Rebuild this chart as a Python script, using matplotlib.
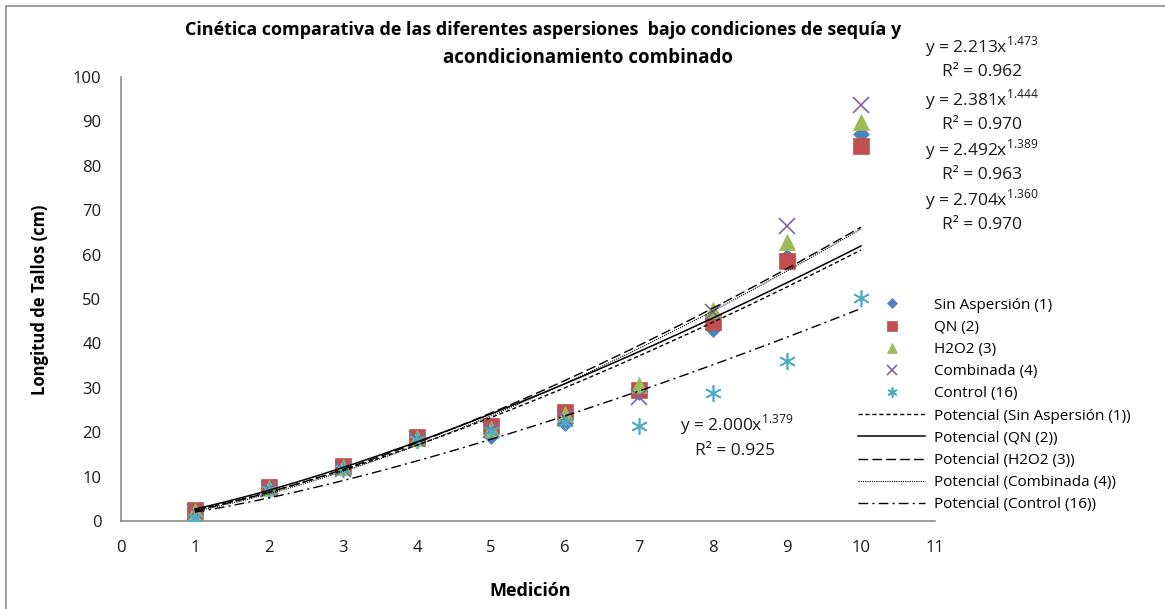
import numpy as np
import matplotlib
matplotlib.use('Agg')
import matplotlib.pyplot as plt
from matplotlib.patches import Rectangle

plt.rcParams['font.family'] = ['Open Sans', 'DejaVu Sans']

# mediciones y longitudes de tallos (cm)
mediciones = [1, 2, 3, 4, 5, 6, 7, 8, 9, 10]
sin_aspersion = [2.2, 7.4, 12.0, 18.8, 19.2, 22.0, 29.0, 43.2, 59.5, 87.2]
qn = [2.4, 7.6, 12.3, 18.9, 21.4, 24.6, 29.4, 44.8, 58.6, 84.5]
h2o2 = [2.3, 7.5, 12.1, 18.6, 20.8, 24.2, 30.6, 47.6, 62.8, 89.8]
combinada = [2.1, 7.3, 11.8, 18.4, 20.5, 23.2, 28.0, 47.0, 66.4, 93.8]
control = [0.7, 7.0, 11.6, 18.2, 20.2, 22.3, 21.3, 28.9, 36.0, 50.3]

nombres = ['Sin Aspersión (1)', 'QN (2)', 'H2O2 (3)', 'Combinada (4)', 'Control (16)']

# ajuste potencial y = a*x^b
coef_a = [2.492, 2.704, 2.381, 2.213, 2.000]
coef_b = [1.389, 1.360, 1.444, 1.473, 1.379]
r2 = [0.963, 0.970, 0.970, 0.962, 0.925]

colores = ['#4F81BD', '#C0504D', '#9BBB59', '#8064A2', '#4BACC6']
marcadores = ['D', 's', '^', 'x', (6, 2, 0)]
tamanos = [8.5, 11, 12, 11, 12]
estilos = [(0, (3, 2)), '-', (0, (7, 3)), (0, (1, 1)), (0, (7, 3, 1.5, 3))]
grosor = [1.0, 1.1, 1.0, 0.8, 1.0]

fig = plt.figure(figsize=(11.65, 6.09), dpi=100)
ax = fig.add_axes([121/1165, 1 - 521/609, (935-121)/1165, (521-77)/609])

series = [sin_aspersion, qn, h2o2, combinada, control]
for i, datos in enumerate(series):
    ax.plot(mediciones, datos, linestyle='none', marker=marcadores[i],
            markersize=tamanos[i], color=colores[i], markeredgecolor=colores[i],
            markeredgewidth=1.2 if i >= 3 else 0.5, label=nombres[i],
            zorder=3)

xs = np.linspace(1, 10, 200)
for i in range(5):
    ax.plot(xs, coef_a[i] * xs ** coef_b[i], color='black', linestyle=estilos[i],
            linewidth=grosor[i], label='Potencial (' + nombres[i] + ')',
            zorder=4)

ax.set_xlim(0, 11)
ax.set_ylim(0, 100)
ax.set_xticks(range(0, 12))
ax.set_yticks(range(0, 101, 10))
ax.tick_params(length=0, labelsize=12, colors='#1a1a1a')
ax.tick_params(axis='x', pad=14)
ax.tick_params(axis='y', pad=14)
for lado in ['top', 'right']:
    ax.spines[lado].set_visible(False)
for lado in ['left', 'bottom']:
    ax.spines[lado].set_color('#8c8c8c')
    ax.spines[lado].set_linewidth(1.2)

fig.text(40/1165, 1 - 300/609, 'Longitud de Tallos (cm)', rotation=90,
         ha='center', va='center', fontsize=12, fontweight='bold')
fig.text(530/1165, 1 - 591/609, 'Medición', ha='center', va='center',
         fontsize=13, fontweight='bold')
fig.text(543/1165, 1 - 30/609,
         'Cinética comparativa de las diferentes aspersiones  bajo condiciones de sequía y',
         ha='center', va='center', fontsize=13, fontweight='bold')
fig.text(588/1165, 1 - 58/609, 'acondicionamiento combinado',
         ha='center', va='center', fontsize=13.5, fontweight='bold')

# ecuaciones de las líneas de tendencia
orden = [3, 2, 0, 1]
pos_y = [47, 100, 150, 200]
for k, i in enumerate(orden):
    fig.text(982/1165, 1 - pos_y[k]/609,
             'y = %.3fx$^{\\mathregular{%.3f}}$' % (coef_a[i], coef_b[i]),
             ha='center', va='center', fontsize=12.5, color='#1a1a1a')
    fig.text(982/1165, 1 - (pos_y[k] + 25)/609, 'R² = %.3f' % r2[i],
             ha='center', va='center', fontsize=12.5, color='#1a1a1a')
fig.text(737/1165, 1 - 425/609,
         'y = %.3fx$^{\\mathregular{%.3f}}$' % (coef_a[4], coef_b[4]),
         ha='center', va='center', fontsize=12.5, color='#1a1a1a')
fig.text(735/1165, 1 - 451/609, 'R² = %.3f' % r2[4],
         ha='center', va='center', fontsize=12.5, color='#1a1a1a')

ax.legend(loc='center left', bbox_to_anchor=(858/1165, 1 - 405/609),
          bbox_transform=fig.transFigure, frameon=False, fontsize=11,
          markerscale=0.6, handlelength=4.4, handletextpad=0.6,
          labelspacing=0.47, borderpad=0, borderaxespad=0)

# borde del área del gráfico
fig.patches.append(Rectangle((6/1165, -0.05), 1.2, 1 - 6/609 + 0.05,
                             transform=fig.transFigure, fill=False,
                             edgecolor='#8c8c8c', linewidth=1.2))

fig.savefig('out.png', dpi=100)
